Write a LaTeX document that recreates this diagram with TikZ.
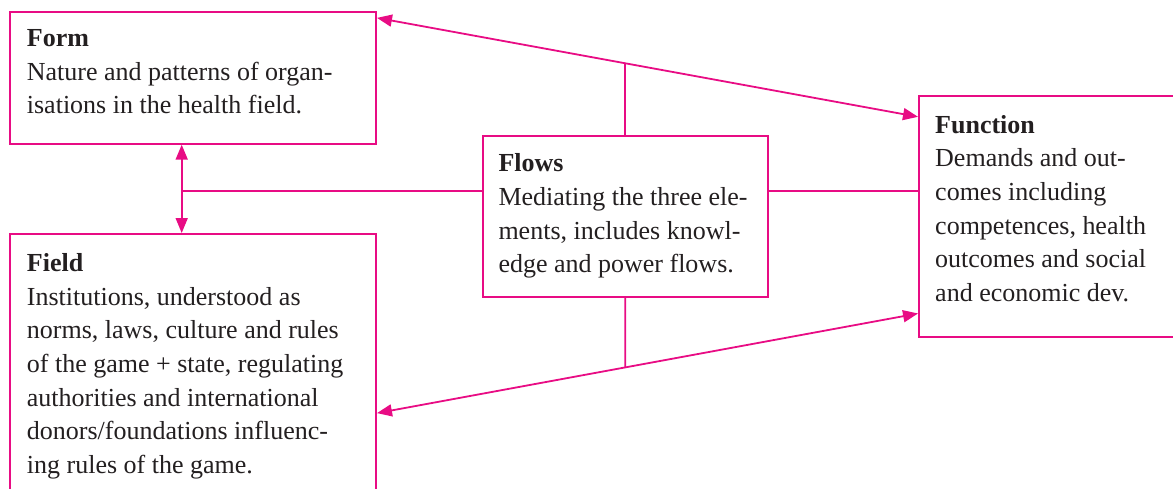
\documentclass[tikz,border=0pt]{standalone}
\usepackage{fontspec}
\setmainfont{Liberation Serif}
\usetikzlibrary{arrows.meta,calc}
\definecolor{mag}{RGB}{232,12,132}
\definecolor{ink}{RGB}{35,31,32}
\begin{document}
\begin{tikzpicture}[x=1pt,y=-1pt,
  box/.style={draw=mag,line width=2pt,rectangle,inner sep=0pt,outer sep=0pt,anchor=north west},
  txt/.style={anchor=base west,align=left,inner sep=0pt,text=ink,font=\fontsize{26}{33.6}\selectfont},
  conn/.style={draw=mag,line width=1.8pt},
  dbl/.style={conn,{Triangle[length=15pt,width=12pt]}-{Triangle[length=15pt,width=12pt]},shorten <=1pt,shorten >=1pt}
]
\clip (0,0) rectangle (1173,488);
% boxes
\node[box,minimum width=366pt,minimum height=132pt] (form) at (10,11.7) {};
\node[box,minimum width=366pt,minimum height=280pt] (field) at (10,234) {};
\node[box,minimum width=280pt,minimum height=241pt] (function) at (919,96) {};
\node[box,minimum width=285pt,minimum height=161pt] (flows) at (482.7,135.7) {};
% texts (anchored at the baseline of the last line)
\node[txt] (formtxt) at ([shift={(16.7,102.2)}]form.north west)
  {\textbf{Form}\\Nature and patterns of organ-\\isations in the health field.};
\node[txt] (fieldtxt) at ([shift={(16.7,239.3)}]field.north west)
  {\textbf{Field}\\Institutions, understood as\\norms, laws, culture and rules\\of the game + state, regulating\\authorities and international\\donors/foundations influenc-\\ing rules of the game.};
\node[txt] (functiontxt) at ([shift={(16,205.3)}]function.north west)
  {\textbf{Function}\\Demands and out-\\comes including\\competences, health\\outcomes and social\\and economic dev.};
\node[txt] (flowstxt) at ([shift={(15.6,137)}]flows.north west)
  {\textbf{Flows}\\Mediating the three ele-\\ments, includes knowl-\\edge and power flows.};
% connectors
\coordinate (fa) at ([xshift=171.7pt]form.south west);
\coordinate (fb) at ([xshift=171.7pt]field.north west);
\draw[dbl] (fa) -- (fb);
\coordinate (j1) at ($(fa)!0.52!(fb)$);
\draw[conn] (j1) -- (j1 -| flows.west);
\draw[conn] (j1 -| flows.east) -- (j1 -| function.west);
\coordinate (ta) at ([yshift=-6pt]form.north east);
\coordinate (tb) at ([yshift=-21pt]function.north west);
\draw[dbl] (ta) -- (tb);
\draw[conn] (flows.north) -- (intersection of ta--tb and flows.north--flows.south);
\coordinate (ba) at ([yshift=-179.3pt]field.north east);
\coordinate (bb) at ([yshift=-217.3pt]function.north west);
\draw[dbl] (ba) -- (bb);
\draw[conn] (flows.south) -- (intersection of ba--bb and flows.north--flows.south);
\end{tikzpicture}
\end{document}
